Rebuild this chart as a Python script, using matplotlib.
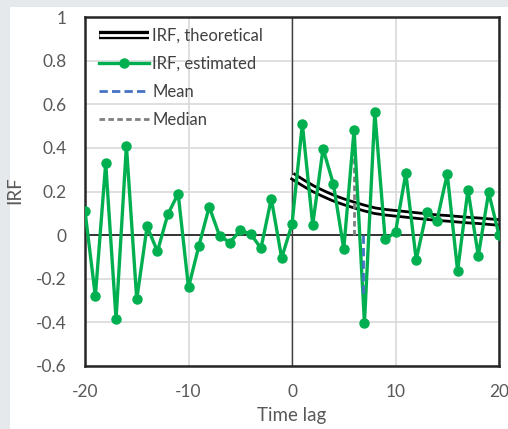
import matplotlib.pyplot as plt
import numpy as np
from matplotlib.lines import Line2D

plt.rcParams['font.family'] = ['Lato', 'DejaVu Sans']
plt.rcParams['axes.unicode_minus'] = False

lags = np.arange(-20, 21)
irf_est = [0.11, -0.28, 0.33, -0.385, 0.41, -0.295, 0.04, -0.075, 0.095, 0.19,
           -0.24, -0.05, 0.13, -0.003, -0.034, 0.022, 0.006, -0.06, 0.167, -0.105,
           0.05, 0.51, 0.047, 0.396, 0.234, -0.063, 0.483, -0.402, 0.564, -0.02,
           0.014, 0.284, -0.113, 0.105, 0.066, 0.28, -0.164, 0.208, -0.095, 0.196, 0.0]

lags_theo = np.arange(0, 21)
irf_theo = [0.272, 0.242, 0.214, 0.191, 0.17, 0.153, 0.138, 0.124, 0.112, 0.105,
            0.1, 0.095, 0.09, 0.085, 0.08, 0.077, 0.073, 0.069, 0.066, 0.062, 0.058]

mean_x = [6.9, 6.9]
mean_y = [0.0, -0.28]
median_x = [6.0, 6.0]
median_y = [0.0, 0.455]

green = '#00b050'
txt = '#595959'
band = '#e6e9ec'

fig = plt.figure(figsize=(5.08, 4.29), dpi=100)

# grey page strips at the top and left edge
for rect in ([0, 1 - 7 / 429, 1, 7 / 429], [0, 0, 10 / 508, 1]):
    b = fig.add_axes(rect)
    b.set_facecolor(band)
    b.set_xticks([])
    b.set_yticks([])
    for s in b.spines.values():
        s.set_visible(False)

ax = fig.add_axes([85 / 508, 1 - 366 / 429, 414 / 508, 349 / 429])

ax.set_xlim(-20, 20)
ax.set_ylim(-0.6, 1.0)
ax.set_xticks([-20, -10, 0, 10, 20])
ax.set_yticks(np.arange(-0.6, 1.01, 0.2))
ax.set_yticklabels(['-0.6', '-0.4', '-0.2', '0', '0.2', '0.4', '0.6', '0.8', '1'])
ax.grid(True, color='#d9d9d9', linewidth=1.2)
ax.set_axisbelow(True)
ax.tick_params(length=0, labelsize=12.5, labelcolor=txt)
ax.tick_params(axis='y', pad=13)
ax.tick_params(axis='x', pad=13)
for s in ax.spines.values():
    s.set_linewidth(1.8)
    s.set_color('#262626')

ax.axhline(0, color='#262626', lw=1.3, zorder=1)
ax.axvline(0, color='#404040', lw=1.0, zorder=1)

ax.plot(lags_theo, irf_theo, color='black', lw=6, solid_capstyle='butt', zorder=2)
ax.plot(lags_theo, irf_theo, color='white', lw=2, solid_capstyle='butt', zorder=2)
ax.plot(lags, irf_est, color=green, lw=2.4, marker='o', ms=6.5, zorder=3)
ax.plot(median_x, median_y, color='#7f7f7f', lw=2, ls=(0, (2, 1.2)), zorder=2)
ax.plot(mean_x, mean_y, color='#4472c4', lw=2, ls=(0, (3, 1.5)), zorder=4)

fig.text(292 / 508, 1 - 416 / 429, 'Time lag', fontsize=13.5, color=txt,
         ha='center', va='center')
fig.text(15 / 508, 1 - 190 / 429, 'IRF', rotation=90, fontsize=13.5, color=txt,
         ha='center', va='center')

h_theo = (Line2D([], [], color='black', lw=6, solid_capstyle='butt'),
          Line2D([], [], color='white', lw=2, solid_capstyle='butt'))
h_est = Line2D([], [], color=green, lw=2.4, marker='o', ms=6.5)
h_mean = Line2D([], [], color='#4472c4', lw=2, ls=(0, (3, 1.5)))
h_med = Line2D([], [], color='#7f7f7f', lw=2, ls=(0, (2, 1.2)))
leg = ax.legend([h_theo, h_est, h_mean, h_med],
                ['IRF, theoretical', 'IRF, estimated', 'Mean', 'Median'],
                loc='upper left', bbox_to_anchor=(0.018, 0.988), frameon=False,
                fontsize=12, handlelength=3.0, handletextpad=0.2, labelspacing=0.72,
                borderaxespad=0)
for t in leg.get_texts():
    t.set_color('#404040')

fig.savefig('out.png', dpi=100, facecolor='white')
